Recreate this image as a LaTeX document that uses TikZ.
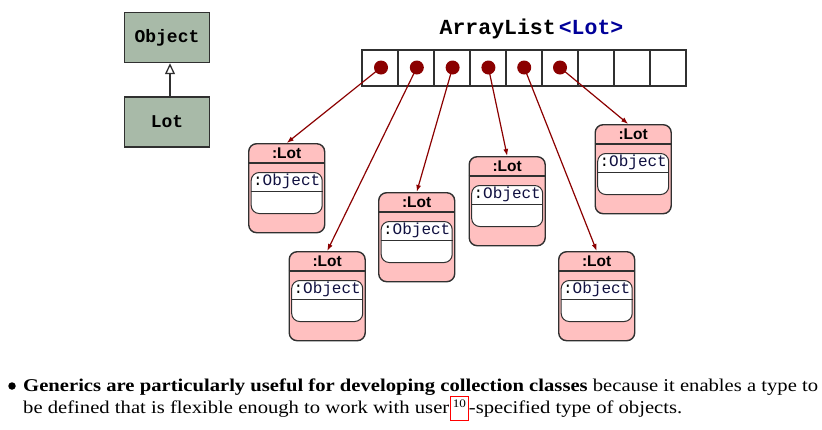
\documentclass[tikz,border=0pt]{standalone}
\usepackage{fontspec}
\usepackage{graphicx}
\setmainfont{Liberation Serif}
\newfontfamily\monofnt{Liberation Mono}
\newfontfamily\sansfnt{Liberation Sans}
\newfontfamily\bodyfont{Liberation Serif}
\usetikzlibrary{arrows.meta}
\definecolor{clsfill}{HTML}{A8BAA8}
\definecolor{pinkfill}{HTML}{FFC0C0}
\definecolor{ptrred}{HTML}{8B0000}
\definecolor{edgegray}{HTML}{303030}
\definecolor{navyblue}{HTML}{000099}
\definecolor{objblue}{HTML}{101040}
\newsavebox\lineonebox
\tikzset{
  clsbox/.style={draw=edgegray, line width=1.4pt, fill=clsfill, minimum width=85pt, minimum height=50pt, inner sep=0pt, font=\monofnt\bfseries\fontsize{18}{18}\selectfont},
  cell/.style={draw=edgegray, line width=1.4pt, fill=white, minimum width=36pt, minimum height=36pt, inner sep=0pt},
  dotptr/.style={circle, fill=ptrred, minimum size=14pt, inner sep=0pt},
  lotouter/.style={draw=edgegray, line width=1.4pt, fill=pinkfill, rounded corners=8pt, minimum width=76pt, minimum height=89pt, inner sep=0pt},
  lotinner/.style={draw=edgegray, line width=1pt, fill=white, rounded corners=8pt, minimum width=71pt, minimum height=41pt, inner sep=0pt},
  lottitle/.style={font=\sansfnt\bfseries\fontsize{15.5}{15.5}\selectfont, inner sep=0pt},
  objtext/.style={font=\monofnt\fontsize{16}{16}\selectfont, inner sep=0pt},
  ptr/.style={draw=ptrred, line width=1.2pt, -{Latex[length=7pt,width=5pt]}},
  inh/.style={draw=edgegray, line width=1.3pt, -{Triangle[open, length=11pt, width=10pt, fill=white]}},
  bodytext/.style={anchor=base west, inner sep=0pt}
}
\newcommand{\lotobj}[3]{%
  \node[lotouter, anchor=north west] (#1) at (#2,#3) {};
  \draw[edgegray, line width=1.4pt] ([yshift=-20pt]#1.north west) -- ([yshift=-20pt]#1.north east);
  \node[lottitle] (#1t) at ([yshift=-10.5pt]#1.north) {:Lot};
  \node[lotinner, anchor=north] (#1i) at ([yshift=-29pt]#1.north) {};
  \draw[edgegray, line width=1pt] ([yshift=-19pt]#1i.north west) -- ([yshift=-19pt]#1i.north east);
  \node[objtext] (#1o) at ([yshift=-9.5pt]#1i.north) {:\textcolor{objblue}{Object}};
}
\newcommand{\bodysz}{\bodyfont\fontsize{18}{21}\selectfont}
\begin{document}
\sbox\lineonebox{\bodysz\textbf{Generics are particularly useful for developing collection classes} because it enables a type to}%
\pgfmathsetmacro\sx{795/\the\wd\lineonebox}%
\begin{tikzpicture}[x=1pt, y=-1pt]
\useasboundingbox (0,0) rectangle (822,429);
% class diagram
\node[clsbox] (obj) at (167,37.5) {Object};
\node[clsbox] (lot) at (167,122) {Lot};
\draw[inh] (lot.north -| 170,0) -- (obj.south -| 170,0);
% title
\node[anchor=base, inner sep=0pt] (title) at (531.5,34) {\monofnt\bfseries\fontsize{21.5}{21.5}\selectfont ArrayList\hspace{3pt}\textcolor{navyblue}{<Lot>}};
% array
\foreach \i in {0,...,8} {
  \node[cell] (c\i) at (380+36*\i,68) {};
}
\foreach \i in {0,...,5} {
  \node[dotptr] (d\i) at (381+35.8*\i,67.5) {};
}
% lot objects
\lotobj{la}{248}{143}
\lotobj{lb}{288.5}{251}
\lotobj{lc}{378}{192}
\lotobj{ld}{468.5}{156}
\lotobj{le}{558}{251}
\lotobj{lf}{594.5}{124}
% pointers
\draw[ptr] (d0.center) -- (la.north);
\draw[ptr] (d1.center) -- (lb.north);
\draw[ptr] (d2.center) -- (lc.north);
\draw[ptr] (d3.center) -- (ld.north);
\draw[ptr] (d4.center) -- (le.north);
\draw[ptr] (d5.center) -- ([xshift=-5pt]lf.north);
% bullet text
\node[circle, fill=black, minimum size=7.5pt, inner sep=0pt] (bul) at (12,386) {};
\node[bodytext] (l1) at (23,391) {\scalebox{\sx}[1]{\usebox\lineonebox}};
\node[bodytext] (l2a) at (23,413) {\scalebox{\sx}[1]{\bodysz be defined that is flexible enough to work with user}};
\node[draw=red, line width=0.8pt, minimum width=18pt, minimum height=24pt, inner sep=0pt, anchor=south west] (supbox) at ([xshift=0.5pt,yshift=-8pt]l2a.base east) {};
\node[inner sep=0pt] (supnum) at ([yshift=-7.5pt]supbox.north) {\scalebox{\sx}[1]{\bodyfont\fontsize{11.5}{11.5}\selectfont 10}};
\node[bodytext] (l2b) at (supbox.east |- l2a.base) {\scalebox{\sx}[1]{\bodysz -specified type of objects.}};
\end{tikzpicture}
\end{document}
